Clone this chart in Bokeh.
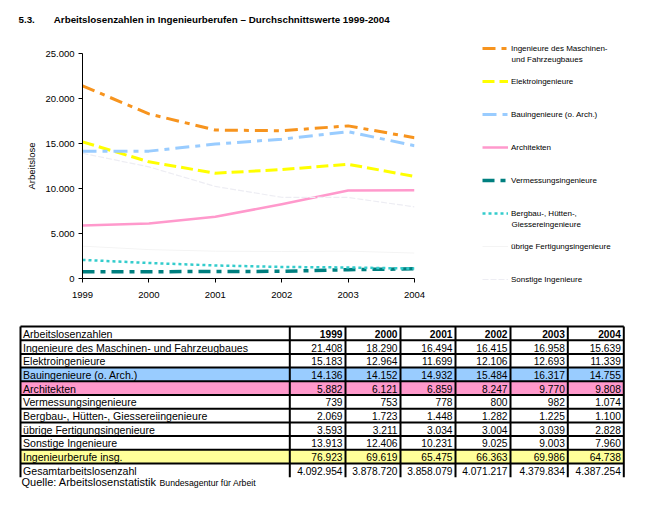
from bokeh.plotting import figure
from bokeh.models import (Range1d, FixedTicker, SingleIntervalTicker, CustomJSTickFormatter,
                          Legend, LegendItem, Label, ColumnDataSource)
from bokeh.layouts import column, row
from bokeh.embed import file_html
from bokeh.resources import INLINE
from bokeh.core.properties import value

# ---------------- data ----------------
years = [1999, 2000, 2001, 2002, 2003, 2004]
maschinen = [21408, 18290, 16494, 16415, 16958, 15639]
elektro = [15183, 12964, 11699, 12106, 12693, 11339]
bau = [14136, 14152, 14932, 15484, 16317, 14755]
architekten = [5882, 6121, 6859, 8247, 9770, 9808]
vermessung = [739, 753, 778, 800, 982, 1074]
bergbau = [2069, 1723, 1448, 1282, 1225, 1100]
uebrige = [3593, 3211, 3034, 3004, 3039, 2828]
sonstige = [13913, 12406, 10231, 9025, 9003, 7960]
insgesamt = [76923, 69619, 65475, 66363, 69986, 64738]
gesamt = [4092954, 3878720, 3858079, 4071217, 4379834, 4387254]

# legend labels (first line, optional second line)
legend_labels = [("Ingenieure des Maschinen-", "und Fahrzeugbaues"), ("Elektroingenieure", ""),
                 ("Bauingenieure (o. Arch.)", ""), ("Architekten", ""),
                 ("Vermessungsingenieure", ""), ("Bergbau-, Hütten-,", "Giessereingenieure"),
                 ("übrige Fertigungsingenieure", ""), ("Sonstige Ingenieure", "")]
table_header = "Arbeitslosenzahlen"
table_rows = ["Ingenieure des Maschinen- und Fahrzeugbaues", "Elektroingenieure",
              "Bauingenieure (o. Arch.)", "Architekten", "Vermessungsingenieure",
              "Bergbau-, Hütten-, Giessereiingenieure", "übrige Fertigungsingenieure",
              "Sonstige Ingenieure", "Ingenieurberufe insg.", "Gesamtarbeitslosenzahl"]
table_values = [maschinen, elektro, bau, architekten, vermessung, bergbau, uebrige,
                sonstige, insgesamt, gesamt]
title_num = "5.3."
title_text = "Arbeitslosenzahlen in Ingenieurberufen – Durchschnittswerte 1999-2004"
y_label = "Arbeitslose"
source_a = "Quelle: Arbeitslosenstatistik"
source_b = "Bundesagentur für Arbeit"

# ---------------- styles ----------------
FONT = "Liberation Sans"
series = [maschinen, elektro, bau, architekten, vermessung, bergbau, uebrige, sonstige]
colors = ["#F7941E", "#FFFF00", "#99CCFF", "#FF99CC", "#007F7F", "#33CCCC", "#F4F4F4", "#EDEDF3"]
widths = [3, 3, 3, 2.5, 3.5, 2.5, 1, 1.2]
dashes = ["13 6 5 6", "12 5", "14 6 5 6", "solid", "12 6 5 6", "3 3", "solid", "6 2"]

W = 668
H0 = 28      # title strip
H1 = 290     # chart strip
H2 = 186     # table strip
WC = 430     # chart width (legend panel to the right)
FL, FR, FT, FB = 82, 414, 25, 250   # chart frame edges inside chart strip

def de(v):
    return f"{v:,}".replace(",", ".")

def plain(fig):
    fig.title.visible = False
    fig.grid.visible = False
    fig.outline_line_color = None
    fig.background_fill_color = "white"
    fig.border_fill_color = "white"
    fig.frame_align = False

def canvas(w, h):
    f = figure(width=w, height=h, x_range=Range1d(0, w), y_range=Range1d(h, 0),
               output_backend="svg", toolbar_location=None, x_axis_type=None,
               y_axis_type=None, min_border=0)
    plain(f)
    return f

# ---------------- title strip ----------------
t0 = canvas(W, H0)
t0.add_layout(Label(x=18, y=19.3, text=title_num, text_font=FONT, text_font_size="9.8px",
                    text_font_style="bold", text_baseline="alphabetic", text_color="black"))
t0.add_layout(Label(x=53.3, y=19.3, text=title_text, text_font=FONT, text_font_size="9.8px",
                    text_font_style="bold", text_baseline="alphabetic", text_color="black"))

# ---------------- chart ----------------
p = figure(width=WC, height=H1, x_range=Range1d(1999, 2004), y_range=Range1d(0, 25000),
           output_backend="svg", toolbar_location=None,
           min_border_left=FL, min_border_right=WC - FR, min_border_top=FT,
           min_border_bottom=H1 - FB)
plain(p)

p.xaxis.ticker = FixedTicker(ticks=years)
p.yaxis.ticker = SingleIntervalTicker(interval=5000)
p.yaxis.formatter = CustomJSTickFormatter(
    code="return tick.toFixed(0).replace(/\\B(?=(\\d{3})+(?!\\d))/g, '.');")
for ax in (p.xaxis[0], p.yaxis[0]):
    ax.axis_line_color = "black"
    ax.major_tick_line_color = "black"
    ax.major_tick_out = 4
    ax.major_tick_in = 0
    ax.minor_tick_line_color = None
    ax.major_label_text_font = FONT
    ax.major_label_text_font_size = "9.5px"
    ax.major_label_text_color = "black"
p.xaxis.major_label_standoff = 9
p.yaxis.major_label_standoff = 4
p.yaxis.axis_label = y_label
p.yaxis.axis_label_text_font = FONT
p.yaxis.axis_label_text_font_size = "9.5px"
p.yaxis.axis_label_text_font_style = "normal"
p.yaxis.axis_label_text_color = "black"
p.yaxis.axis_label_standoff = 5

for ys, c, w, d in zip(series, colors, widths, dashes):
    p.line(years, ys, line_color=c, line_width=w, line_dash=d, line_join="round")

# ---------------- legend panel ----------------
LW = W - WC
lg = canvas(LW, H1)
items = []
for (l1, l2), ys, c, w, d in zip(legend_labels, series, colors, widths, dashes):
    # the series lie outside this panel's frame; only the legend swatches show
    r = lg.line(years, ys, line_color=c, line_width=w, line_dash=d)
    items.append(LegendItem(label=l1, renderers=[r]))
LX, LTOP, LPITCH, LH = 52, 6, 33, 28
legend = Legend(items=items, location=(LX, H1 - LTOP - (len(items) * LPITCH - (LPITCH - LH))),
                padding=0, margin=0, spacing=LPITCH - LH,
                label_height=LH, glyph_height=LH, glyph_width=26, label_standoff=3,
                border_line_color=None, background_fill_alpha=0,
                label_text_font=FONT, label_text_font_size="8px",
                label_text_color="black")
lg.add_layout(legend)
for k, (l1, l2) in enumerate(legend_labels):
    if l2:
        lg.add_layout(Label(x=LX + 29, y=LTOP + k * LPITCH + LH / 2 + 11, text=l2,
                            text_font=FONT, text_font_size="8px", text_baseline="middle",
                            text_color="black"))

# ---------------- table ----------------
t = canvas(W, H2)

COLS = [20, 289.3, 345, 400, 455, 510, 567.3, 623.3]
TOP = 8
RH = 13.7
NROWS = len(table_rows) + 1
fills = {3: "#99CCFF", 4: "#FF99CC", 9: "#FFFF99"}

fi = sorted(fills)
t.quad(left=[COLS[0]] * len(fi), right=[COLS[-1]] * len(fi),
       top=[TOP + i * RH for i in fi], bottom=[TOP + (i + 1) * RH for i in fi],
       fill_color=[fills[i] for i in fi], line_color=None)

hy = [TOP + i * RH for i in range(NROWS)]
t.segment(x0=[COLS[0]] * len(hy), x1=[COLS[-1]] * len(hy), y0=hy, y1=hy,
          line_color="black", line_width=2)
t.segment(x0=COLS, x1=COLS, y0=[TOP] * len(COLS), y1=[TOP + NROWS * RH] * len(COLS),
          line_color="black", line_width=2)

lab_src = ColumnDataSource(dict(
    x=[COLS[0] + 2.5] * NROWS,
    y=[TOP + (i + 0.5) * RH + 0.5 for i in range(NROWS)],
    text=[table_header] + table_rows))
t.text(x="x", y="y", text="text", source=lab_src, text_font=value(FONT),
       text_font_size="10.6px", text_baseline="middle", text_align="left",
       text_color="black")

hdr_src = ColumnDataSource(dict(
    x=[COLS[j + 2] - 3 for j in range(len(years))],
    y=[TOP + 0.5 * RH + 0.5] * len(years),
    text=[str(y) for y in years]))
t.text(x="x", y="y", text="text", source=hdr_src, text_font=value(FONT),
       text_font_size="10.2px", text_font_style="bold", text_baseline="middle",
       text_align="right", text_color="black")

nx, ny, nt = [], [], []
for i, vals in enumerate(table_values):
    for j, v in enumerate(vals):
        nx.append(COLS[j + 2] - 3)
        ny.append(TOP + (i + 1.5) * RH + 0.5)
        nt.append(de(v))
num_src = ColumnDataSource(dict(x=nx, y=ny, text=nt))
t.text(x="x", y="y", text="text", source=num_src, text_font=value(FONT),
       text_font_size="10.2px", text_baseline="middle", text_align="right",
       text_color="black")

t.add_layout(Label(x=COLS[0] + 1, y=TOP + NROWS * RH + 5, text=source_a,
                   text_font=FONT, text_font_size="11px", text_baseline="middle",
                   text_color="black"))
t.add_layout(Label(x=159, y=TOP + NROWS * RH + 5.5, text=source_b,
                   text_font=FONT, text_font_size="8.7px", text_baseline="middle",
                   text_color="black"))

layout = column(t0, row(p, lg, spacing=0), t, spacing=0)
open("out.html", "w").write(file_html(layout, INLINE))
